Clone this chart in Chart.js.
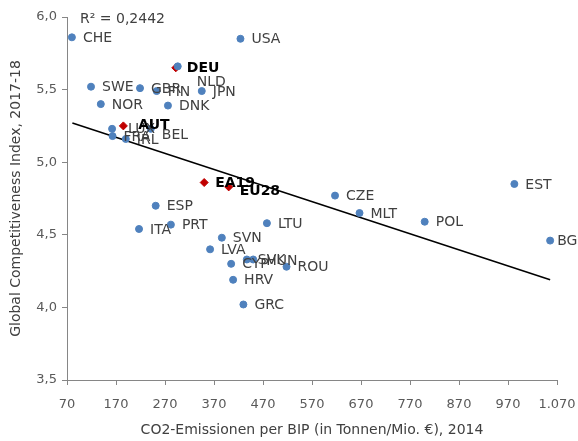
<!DOCTYPE html>
<html>
<head>
<meta charset="utf-8">
<script src="https://cdn.jsdelivr.net/npm/chart.js@4"></script>
<style>
html,body{margin:0;padding:0;background:#fff;}
#wrap{width:578px;height:441px;position:relative;}
</style>
</head>
<body>
<div id="wrap"><canvas id="c" width="578" height="441"></canvas></div>
<script>
// ---- data ----
const countries = ['CHE','USA','NLD','SWE','GBR','FIN','JPN','NOR','DNK','LUX','FRA','IRL','BEL','ESP','ITA','PRT','CZE','MLT','POL','EST','BG','LTU','SVN','LVA','SVK','HUN','CYP','ROU','HRV','GRC'];
const co2 = [80,424,296,119,219,253,345,139,276,162,163,190,241,251,217,282,617,667,800,983,1056,478,386,362,437,450,405,518,409,430];
const gci = [5.86,5.85,5.66,5.52,5.51,5.49,5.49,5.40,5.39,5.23,5.18,5.16,5.23,4.70,4.54,4.57,4.77,4.65,4.59,4.85,4.46,4.58,4.48,4.40,4.33,4.33,4.30,4.28,4.19,4.02];

const highlight = ['DEU','AUT','EA19','EU28'];
const highlightCo2 = [292,185,350,400];
const highlightGci = [5.65,5.25,4.86,4.83];

const trendX = [81,1056];
const trendY = [5.27,4.19];
const rSquaredText = 'R² = 0,2442';

const xTicks = [70,170,270,370,470,570,670,770,870,970,1070];
const yTicks = [3.5,4.0,4.5,5.0,5.5,6.0];

// label nudges (layout only)
const nudge = {NLD:{dx:8,dy:15}, AUT:{dx:4,dy:-2}, BEL:{dx:0,dy:6}, LUX:{dx:5,dy:0}, EU28:{dx:0,dy:3}, HUN:{dx:2,dy:1}, BG:{dx:-4,dy:0}};

const FONT = '"DejaVu Sans", sans-serif';

function fmtX(v){ if(v>=1000){ const t=Math.floor(v/1000), r=String(v%1000).padStart(3,'0'); return t+'.'+r;} return String(v); }

const labelPlugin = {
  id:'labels',
  afterDraw(chart){
    const ctx = chart.ctx;
    ctx.save();
    ctx.textBaseline='middle';
    ctx.textAlign='left';
    [0,1].forEach(di=>{
      const meta = chart.getDatasetMeta(di);
      const names = di===0 ? countries : highlight;
      ctx.font = (di===0 ? '' : 'bold ') + '14px ' + FONT;
      ctx.fillStyle = di===0 ? '#404040' : '#000000';
      meta.data.forEach((el,i)=>{
        const n = names[i];
        const o = nudge[n] || {dx:0,dy:0};
        ctx.fillText(n, el.x + 11 + o.dx, el.y + 1 + o.dy);
      });
    });
    ctx.font = '14px ' + FONT;
    ctx.fillStyle = '#404040';
    ctx.fillText(rSquaredText, 80, 19);
    ctx.restore();
  }
};

new Chart(document.getElementById('c'), {
  type:'scatter',
  data:{
    datasets:[
      {
        label:'Länder',
        data: countries.map((c,i)=>({x:co2[i], y:gci[i]})),
        backgroundColor:'#4F81BD',
        borderColor:'#4F81BD',
        pointRadius:3.5,
        pointHoverRadius:3.5,
        order:1
      },
      {
        label:'Hervorgehoben',
        data: highlight.map((c,i)=>({x:highlightCo2[i], y:highlightGci[i]})),
        backgroundColor:'#C00000',
        borderColor:'#C00000',
        pointStyle:'rectRot',
        pointRadius:4,
        pointHoverRadius:4,
        order:2
      },
      {
        type:'line',
        label:'Trend',
        data: trendX.map((x,i)=>({x:x, y:trendY[i]})),
        borderColor:'#000000',
        borderWidth:1.5,
        pointRadius:0,
        fill:false,
        order:3
      }
    ]
  },
  options:{
    responsive:false,
    animation:false,
    events:[],
    layout:{padding:{top:17,right:21,left:0,bottom:0}},
    plugins:{legend:{display:false}, tooltip:{enabled:false}},
    scales:{
      x:{
        type:'linear', min:70, max:1070,
        afterBuildTicks(s){ s.ticks = xTicks.map(v=>({value:v})); },
        afterFit(s){ s.height = 61; s.paddingRight = 0; s.paddingLeft = 0; },
        grid:{display:true, drawOnChartArea:false, drawTicks:true, tickLength:5, color:'#868686'},
        border:{display:true, color:'#868686'},
        ticks:{color:'#595959', font:{family:FONT, size:13}, padding:12, maxRotation:0, autoSkip:false, callback:(v)=>fmtX(v)},
        title:{display:true, text:'CO2-Emissionen per BIP (in Tonnen/Mio. €), 2014', color:'#404040', font:{family:FONT, size:14}, padding:{top:0,bottom:2}}
      },
      y:{
        type:'linear', min:3.5, max:6.0,
        afterBuildTicks(s){ s.ticks = yTicks.map(v=>({value:v})); },
        afterFit(s){ s.width = 67; s.paddingTop = 0; s.paddingBottom = 0; },
        grid:{display:true, drawOnChartArea:false, drawTicks:true, tickLength:5, color:'#868686'},
        border:{display:true, color:'#868686'},
        ticks:{color:'#595959', font:{family:FONT, size:13}, padding:5, callback:(v)=>v.toFixed(1).replace('.',',')},
        title:{display:true, text:'Global Competitiveness Index, 2017-18', color:'#404040', font:{family:FONT, size:14}, padding:{top:8,bottom:0}}
      }
    }
  },
  plugins:[labelPlugin]
});
</script>
</body>
</html>
